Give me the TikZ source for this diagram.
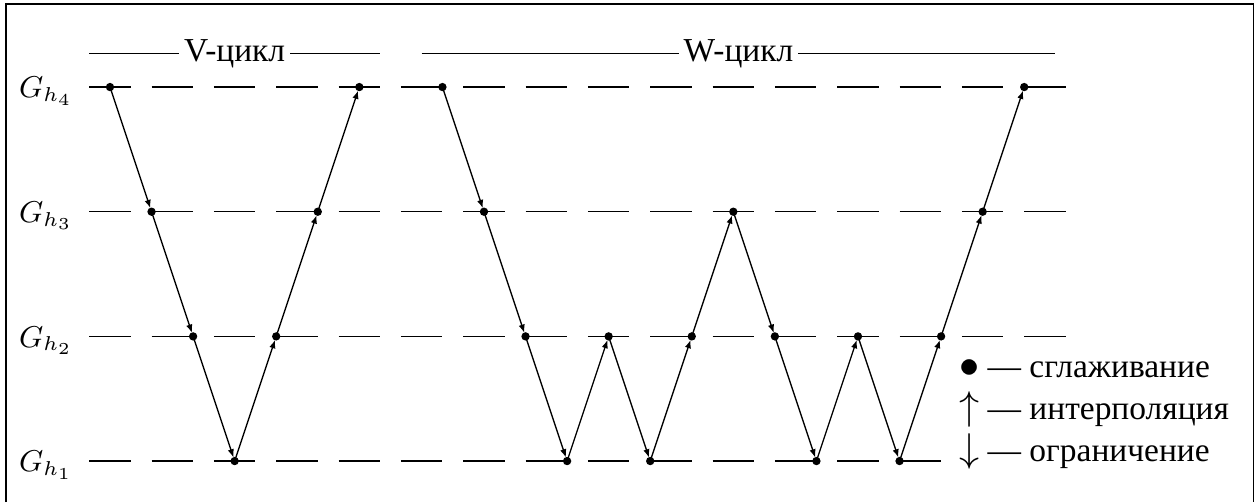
\documentclass[tikz,border=0pt]{standalone}
\usepackage[no-math]{fontspec}
\usepackage{amsmath}
\newfontfamily\cyrfont{Liberation Serif}
\usetikzlibrary{arrows.meta}

\begin{document}
\begin{tikzpicture}[x=0.4364cm, y=0.4364cm,
    level/.style={dash pattern=on 0.4364cm off 0.2182cm},
    seg/.style={-{Latex[length=2.5pt,width=1.9pt]}, shorten >=1.1pt},
    title/.style={fill=white, inner sep=1.5pt, font=\cyrfont},
    lab/.style={anchor=base east, inner sep=0pt, font=\fontsize{9}{11}\selectfont},
    leg/.style={anchor=base west, inner sep=0pt, font=\cyrfont},
  ]
  \useasboundingbox (-2.647,-0.987) rectangle (27.65,11.095);
  % Рамка (низ обрезан)
  \draw (-2.5,-0.987) |- (27.51,11.0) -- (27.51,-0.987);

  % Уровни сеток
  \node[lab] (g4) at (-0.88,8.74) {$G_{h_4}$};
  \node[lab] (g3) at (-0.88,5.74) {$G_{h_3}$};
  \node[lab] (g2) at (-0.88,2.74) {$G_{h_2}$};
  \node[lab] (g1) at (-0.88,-0.26) {$G_{h_1}$};
  \draw[level] (-0.5,9) -- (23,9);
  \draw[level] (-0.5,6) -- (23,6);
  \draw[level] (-0.5,3) -- (23,3);
  \draw[level] (-0.5,0) -- (20,0);

  % Заголовки циклов
  \draw (-0.5,9.8) -- node[title] (vt) {V-цикл} (6.5,9.8);
  \draw (7.5,9.8) -- node[title] (wt) {W-цикл} (22.75,9.8);

  % V-цикл
  \foreach \i/\lv [count=\k from 0] in {0/9,1/6,2/3,3/0,4/3,5/6,6/9}
    \coordinate (v\k) at (\i,\lv);
  \foreach \a [count=\b] in {0,...,5}
    \draw[seg] (v\a) -- (v\b);
  \foreach \k in {0,...,6}
    \fill (v\k) circle (1.25pt);

  % W-цикл
  \foreach \i/\lv [count=\k from 0] in {8/9,9/6,10/3,11/0,12/3,13/0,14/3,15/6,
                                         16/3,17/0,18/3,19/0,20/3,21/6,22/9}
    \coordinate (w\k) at (\i,\lv);
  \foreach \a [count=\b] in {0,...,13}
    \draw[seg] (w\a) -- (w\b);
  \foreach \k in {0,...,14}
    \fill (w\k) circle (1.25pt);

  % Легенда
  \node[leg] (smooth) at (20.42,2) {{\fontsize{11.5}{13}\selectfont$\bullet$} — сглаживание};
  \node[leg] (interp) at (20.42,1) {{\fontsize{11.5}{13}\selectfont$\uparrow$} — интерполяция};
  \node[leg] (restr) at (20.42,0) {{\fontsize{11.5}{13}\selectfont$\downarrow$} — ограничение};
\end{tikzpicture}
\end{document}
